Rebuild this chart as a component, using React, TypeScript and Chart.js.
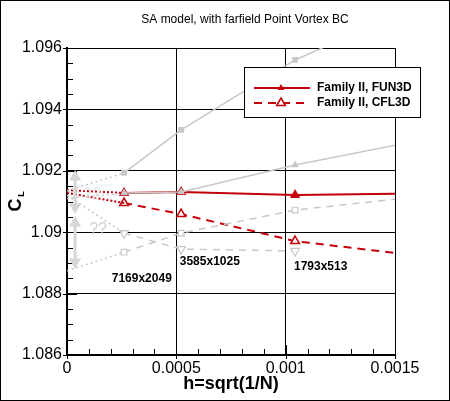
import React, { useEffect, useRef } from "react";
import { Chart, registerables } from "chart.js";

Chart.register(...registerables);

// ---- data ----
const gridH = [0.000261, 0.000522, 0.001043, 0.002083];
const fun3d = [1.09128, 1.09131, 1.09121, 1.0913];
const cfl3d = [1.09095, 1.09059, 1.08971, 1.08883];
const fun3dExtrap = [1.09137, 1.09128];
const cfl3dExtrap = [1.09128, 1.09095];

const greySolidSquare = [1.09193, 1.09333, 1.09561, 1.0989];
const greySolidTri = [1.09128, 1.09131, 1.09219, 1.09365];
const greyDashSquare = [1.08935, 1.08997, 1.09072, 1.09153];
const greyDashTri = [1.08997, 1.08945, 1.08939];
const greyExtrapStart = [1.09134, 1.0911, 1.0912, 1.08874];
const greyExtrapEnd = [1.09193, 1.09128, 1.08997, 1.08935];

const arrowH = 0.000037;
const arrowUpper = [1.0918, 1.09082];
const arrowLower = [1.0903, 1.08903];

const xTickLabels = ["0", "0.0005", "0.001", "0.0015"];
const yTickLabels = ["1.086", "1.088", "1.09", "1.092", "1.094", "1.096"];

const gridLabels = ["7169x2049", "3585x1025", "1793x513"];
const gridLabelX = [0.000342, 0.000653, 0.00116];
const gridLabelY = [1.08848, 1.08903, 1.08887];

const qLabels = ["??", "??"];
const qLabelX = [0.000142, 0.000114];
const qLabelY = [1.09007, 1.09124];

const legendLabels = ["Family II, FUN3D", "Family II, CFL3D"];
const titleText = "SA model, with farfield Point Vortex BC";

const RED = "#c4000c";
const GREY = "#c8c8c8";
const LGREY = "#d6d6d6";

const pts = (xs: number[], ys: number[]) => ys.map((y, i) => ({ x: xs[i], y }));

const App: React.FC = () => {
  const ref = useRef<HTMLCanvasElement | null>(null);

  useEffect(() => {
    if (!ref.current) return;

    const extrapSets = greyExtrapStart.map((s, i) => ({
      data: [
        { x: 0, y: s },
        { x: gridH[0], y: greyExtrapEnd[i] },
      ],
      borderColor: GREY,
      borderWidth: 1.5,
      borderDash: [2, 3],
      pointRadius: 0,
    }));

    const overlay = {
      id: "overlay",
      beforeDraw(chart: any) {
        const c = chart.ctx;
        c.save();
        c.fillStyle = "#fff";
        c.fillRect(0, 0, chart.width, chart.height);
        c.restore();
      },
      beforeDatasetsDraw(chart: any) {
        const c = chart.ctx;
        const xs = chart.scales.x;
        const ys = chart.scales.y;
        const a = chart.chartArea;
        c.save();
        c.strokeStyle = "#000";
        c.lineWidth = 1;
        // y minor ticks
        for (let k = 0; k <= 20; k++) {
          const val = 1.086 + k * 0.0005;
          const py = Math.round(ys.getPixelForValue(val)) + 0.5;
          const major = k % 4 === 0;
          c.beginPath();
          c.moveTo(a.left - (major ? 4 : 0), py);
          c.lineTo(a.left + (major ? 10 : 6), py);
          c.stroke();
        }
        // x minor ticks
        for (let k = 0; k <= 15; k++) {
          const val = k * 0.0001;
          const px = Math.round(xs.getPixelForValue(val)) + 0.5;
          const major = k % 5 === 0;
          c.beginPath();
          c.moveTo(px, a.bottom + (major ? 4 : 0));
          c.lineTo(px, a.bottom - (major ? 10 : 6));
          c.stroke();
        }
        c.restore();
      },
      afterDraw(chart: any) {
        const c = chart.ctx;
        const xs = chart.scales.x;
        const ys = chart.scales.y;
        const a = chart.chartArea;
        c.save();
        // title
        c.fillStyle = "#000";
        c.font = "12px 'Liberation Sans', Arial, sans-serif";
        c.textAlign = "center";
        c.textBaseline = "middle";
        c.fillText(titleText, 245, 20);
        // x title
        c.font = "bold 18px 'Liberation Sans', Arial, sans-serif";
        c.fillText("h=sqrt(1/N)", (a.left + a.right) / 2, 384);
        // y title C_L
        c.save();
        c.translate(16, 205);
        c.rotate(-Math.PI / 2);
        c.fillText("C", 0, 0);
        c.restore();
        c.save();
        c.translate(22, 194);
        c.rotate(-Math.PI / 2);
        c.font = "bold 9px 'Liberation Sans', Arial, sans-serif";
        c.fillText("L", 0, 0);
        c.restore();

        // grid labels
        c.font = "bold 12px 'Liberation Sans', Arial, sans-serif";
        c.fillStyle = "#000";
        gridLabels.forEach((t, i) => {
          c.fillText(t, xs.getPixelForValue(gridLabelX[i]), ys.getPixelForValue(gridLabelY[i]));
        });
        // ?? labels
        c.font = "16px 'Liberation Sans', Arial, sans-serif";
        qLabels.forEach((t, i) => {
          c.fillStyle = i === 0 ? "#d0d0d0" : "#e6e6e6";
          c.fillText(t, xs.getPixelForValue(qLabelX[i]), ys.getPixelForValue(qLabelY[i]));
        });

        // legend
        const lx = 244.5, ly = 67.5, lw = 176, lh = 50;
        c.fillStyle = "#fff";
        c.fillRect(lx, ly, lw, lh);
        c.strokeStyle = "#000";
        c.lineWidth = 1;
        c.strokeRect(lx, ly, lw, lh);
        const rows = [88, 103];
        rows.forEach((ry, i) => {
          c.strokeStyle = RED;
          c.lineWidth = 2;
          c.setLineDash(i === 0 ? [] : [8, 6]);
          c.beginPath();
          c.moveTo(254, ry);
          c.lineTo(310, ry);
          c.stroke();
          c.setLineDash([]);
          // triangle marker
          const r = i === 0 ? 4 : 5;
          c.beginPath();
          c.moveTo(281, ry - r);
          c.lineTo(281 + r * 0.87, ry + r * 0.5);
          c.lineTo(281 - r * 0.87, ry + r * 0.5);
          c.closePath();
          if (i === 0) {
            c.fillStyle = RED;
            c.fill();
          } else {
            c.fillStyle = "#fff";
            c.fill();
            c.lineWidth = 1.5;
            c.stroke();
          }
          c.fillStyle = "#000";
          c.font = "bold 12px 'Liberation Sans', Arial, sans-serif";
          c.textAlign = "left";
          c.fillText(legendLabels[i], 317, ry);
          c.textAlign = "center";
        });

        // outer frame
        c.strokeStyle = "#000";
        c.lineWidth = 1;
        c.strokeRect(0.5, 0.5, chart.width - 1, chart.height - 1);
        c.restore();
      },
    };

    const chart = new Chart(ref.current, {
      type: "line",
      data: {
        datasets: [
          ...extrapSets,
          {
            data: [
              { x: arrowH, y: arrowUpper[0] },
              { x: arrowH, y: arrowUpper[1] },
            ],
            borderColor: LGREY,
            borderWidth: 3,
            pointStyle: "triangle",
            pointRadius: 4,
            pointRotation: [0, 180],
            pointBackgroundColor: LGREY,
            pointBorderColor: LGREY,
          },
          {
            data: [
              { x: arrowH, y: arrowLower[0] },
              { x: arrowH, y: arrowLower[1] },
            ],
            borderColor: LGREY,
            borderWidth: 3,
            pointStyle: "triangle",
            pointRadius: 4,
            pointRotation: [0, 180],
            pointBackgroundColor: LGREY,
            pointBorderColor: LGREY,
          },
          {
            data: pts(gridH, greySolidSquare),
            borderColor: GREY,
            borderWidth: 1.5,
            pointStyle: "rect",
            pointRadius: 3,
            pointBackgroundColor: GREY,
            pointBorderColor: GREY,
          },
          {
            data: pts(gridH, greySolidTri),
            borderColor: GREY,
            borderWidth: 1.5,
            pointStyle: "triangle",
            pointRadius: 3,
            pointBackgroundColor: GREY,
            pointBorderColor: GREY,
          },
          {
            data: pts(gridH, greyDashSquare),
            borderColor: GREY,
            borderWidth: 1.5,
            borderDash: [7, 6],
            pointStyle: "rect",
            pointRadius: 4,
            pointBackgroundColor: "#fff",
            pointBorderColor: GREY,
            pointBorderWidth: 1.2,
          },
          {
            data: pts(gridH, greyDashTri),
            borderColor: GREY,
            borderWidth: 1.5,
            borderDash: [7, 6],
            pointStyle: "triangle",
            pointRotation: 180,
            pointRadius: 5,
            pointBackgroundColor: "#fff",
            pointBorderColor: GREY,
            pointBorderWidth: 1.2,
          },
          {
            data: [
              { x: 0, y: fun3dExtrap[0] },
              { x: gridH[0], y: fun3dExtrap[1] },
            ],
            borderColor: RED,
            borderWidth: 2,
            borderDash: [2, 2],
            pointRadius: 0,
          },
          {
            data: [
              { x: 0, y: cfl3dExtrap[0] },
              { x: gridH[0], y: cfl3dExtrap[1] },
            ],
            borderColor: RED,
            borderWidth: 2,
            borderDash: [2, 2],
            pointRadius: 0,
          },
          {
            label: legendLabels[0],
            data: pts(gridH, fun3d),
            borderColor: RED,
            borderWidth: 2,
            pointStyle: "triangle",
            pointRadius: 4,
            pointBackgroundColor: RED,
            pointBorderColor: RED,
          },
          {
            label: legendLabels[1],
            data: pts(gridH, cfl3d),
            borderColor: RED,
            borderWidth: 2,
            borderDash: [8, 6],
            pointStyle: "triangle",
            pointRadius: 5,
            pointBackgroundColor: "#fff",
            pointBorderColor: RED,
            pointBorderWidth: 1.5,
          },
        ] as any,
      },
      options: {
        animation: false,
        responsive: false,
        devicePixelRatio: 1,
        layout: { padding: { top: 48, right: 55, left: 0, bottom: 0 } },
        plugins: {
          legend: { display: false },
          tooltip: { enabled: false },
          title: { display: false },
        },
        elements: { line: { tension: 0 } },
        scales: {
          x: {
            type: "linear",
            min: 0,
            max: 0.0015,
            ticks: {
              stepSize: 0.0005,
              color: "#000",
              padding: 4,
              maxRotation: 0,
              font: { family: "'Liberation Sans', Arial, sans-serif", size: 16 },
              callback: (_v: any, i: number) => xTickLabels[i],
            },
            grid: { color: "#000", lineWidth: 1, drawTicks: false },
            border: { color: "#000", width: 2 },
            afterFit: (s: any) => {
              s.height = 46;
            },
          },
          y: {
            type: "linear",
            min: 1.086,
            max: 1.096,
            ticks: {
              stepSize: 0.002,
              color: "#000",
              padding: 5,
              font: { family: "'Liberation Sans', Arial, sans-serif", size: 16 },
              callback: (_v: any, i: number) => yTickLabels[i],
            },
            grid: { color: "#000", lineWidth: 1, drawTicks: false },
            border: { color: "#000", width: 2 },
            afterFit: (s: any) => {
              s.width = 67;
            },
          },
        },
      } as any,
      plugins: [overlay],
    });

    return () => chart.destroy();
  }, []);

  return (
    <div style={{ position: "fixed", left: 0, top: 0, width: 450, height: 401 }}>
      <canvas ref={ref} width={450} height={401} style={{ width: 450, height: 401, display: "block" }} />
    </div>
  );
};

export default App;
